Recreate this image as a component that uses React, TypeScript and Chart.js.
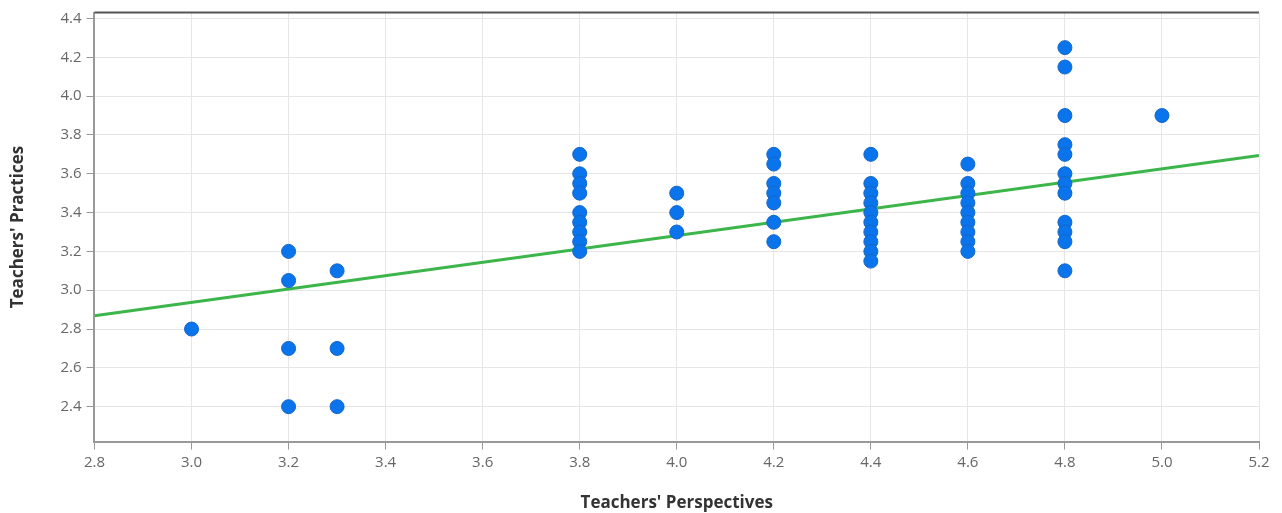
import React, { useEffect, useRef } from "react";
import { Chart, registerables } from "chart.js";

Chart.register(...registerables);

const perspectives: number[] = [
  3.0,
  3.2, 3.2, 3.2, 3.2,
  3.3, 3.3, 3.3,
  3.8, 3.8, 3.8, 3.8, 3.8, 3.8, 3.8, 3.8, 3.8,
  4.0, 4.0, 4.0,
  4.2, 4.2, 4.2, 4.2, 4.2, 4.2, 4.2,
  4.4, 4.4, 4.4, 4.4, 4.4, 4.4, 4.4, 4.4, 4.4, 4.4,
  4.6, 4.6, 4.6, 4.6, 4.6, 4.6, 4.6, 4.6, 4.6,
  4.8, 4.8, 4.8, 4.8, 4.8, 4.8, 4.8, 4.8, 4.8, 4.8, 4.8, 4.8,
  5.0,
];
const practices: number[] = [
  2.8,
  3.2, 3.05, 2.7, 2.4,
  3.1, 2.7, 2.4,
  3.7, 3.6, 3.55, 3.5, 3.4, 3.35, 3.3, 3.25, 3.2,
  3.5, 3.4, 3.3,
  3.7, 3.65, 3.55, 3.5, 3.45, 3.35, 3.25,
  3.7, 3.55, 3.5, 3.45, 3.4, 3.35, 3.3, 3.25, 3.2, 3.15,
  3.65, 3.55, 3.5, 3.45, 3.4, 3.35, 3.3, 3.25, 3.2,
  4.25, 4.15, 3.9, 3.75, 3.7, 3.6, 3.55, 3.5, 3.35, 3.3, 3.25, 3.1,
  3.9,
];
const trendX: number[] = [2.8, 5.2];
const trendY: number[] = [2.868, 3.694];
const xTicks: number[] = [2.8, 3.0, 3.2, 3.4, 3.6, 3.8, 4.0, 4.2, 4.4, 4.6, 4.8, 5.0, 5.2];
const yTicks: number[] = [2.4, 2.6, 2.8, 3.0, 3.2, 3.4, 3.6, 3.8, 4.0, 4.2, 4.4];

const topBorder = {
  id: "topBorder",
  afterDraw(chart: any) {
    const { ctx, chartArea } = chart;
    ctx.save();
    ctx.strokeStyle = "#555555";
    ctx.lineWidth = 2;
    ctx.beginPath();
    ctx.moveTo(chartArea.left, chartArea.top);
    ctx.lineTo(chartArea.right, chartArea.top);
    ctx.stroke();
    ctx.restore();
  },
};

export default function App() {
  const ref = useRef<HTMLCanvasElement>(null);
  useEffect(() => {
    document.body.style.margin = "0";
    const pts = perspectives.map((x, i) => ({ x, y: practices[i] }));
    const line = trendX.map((x, i) => ({ x, y: trendY[i] }));
    const chart = new Chart(ref.current!, {
      type: "scatter",
      data: {
        datasets: [
          {
            type: "line",
            data: line,
            borderColor: "#3cb54a",
            borderWidth: 3,
            pointRadius: 0,
            fill: false,
            order: 2,
          } as any,
          {
            data: pts,
            backgroundColor: "#0a74ec",
            borderColor: "#1466c8",
            borderWidth: 1,
            pointRadius: 7,
            order: 1,
          },
        ],
      },
      options: {
        animation: false,
        responsive: false,
        maintainAspectRatio: false,
        layout: { padding: { top: 7, right: 23, left: 8, bottom: 0 } },
        plugins: { legend: { display: false }, tooltip: { enabled: false } },
        scales: {
          x: {
            type: "linear",
            min: 2.8,
            max: 5.2,
            afterBuildTicks: (s: any) => {
              s.ticks = xTicks.map((v) => ({ value: v }));
            },
            ticks: {
              color: "#666666",
              font: { family: "Open Sans", size: 15 },
              callback: (v: any) => Number(v).toFixed(1),
              padding: 4,
            },
            grid: { color: "#e6e6e6", tickLength: 8, tickColor: "#999999" },
            border: { color: "#999999", width: 2 },
            title: {
              display: true,
              text: "Teachers' Perspectives",
              color: "#333333",
              font: { family: "Open Sans", size: 17, weight: "bold" },
              padding: { top: 17, bottom: 0 },
            },
          },
          y: {
            type: "linear",
            min: 2.22,
            max: 4.431,
            afterBuildTicks: (s: any) => {
              s.ticks = yTicks.map((v) => ({ value: v }));
            },
            ticks: {
              color: "#666666",
              font: { family: "Open Sans", size: 15, lineHeight: 1 },
              callback: (v: any) => Number(v).toFixed(1),
              padding: 5,
            },
            grid: { color: "#e6e6e6", tickLength: 8, tickColor: "#999999" },
            border: { color: "#999999", width: 2 },
            title: {
              display: true,
              text: "Teachers' Practices",
              color: "#333333",
              font: { family: "Open Sans", size: 17, weight: "bold" },
              padding: { top: 0, bottom: 27 },
            },
          },
        },
      },
      plugins: [topBorder],
    });
    return () => chart.destroy();
  }, []);
  return (
    <div style={{ width: 1282, height: 513 }}>
      <canvas ref={ref} width={1282} height={513} />
    </div>
  );
}
